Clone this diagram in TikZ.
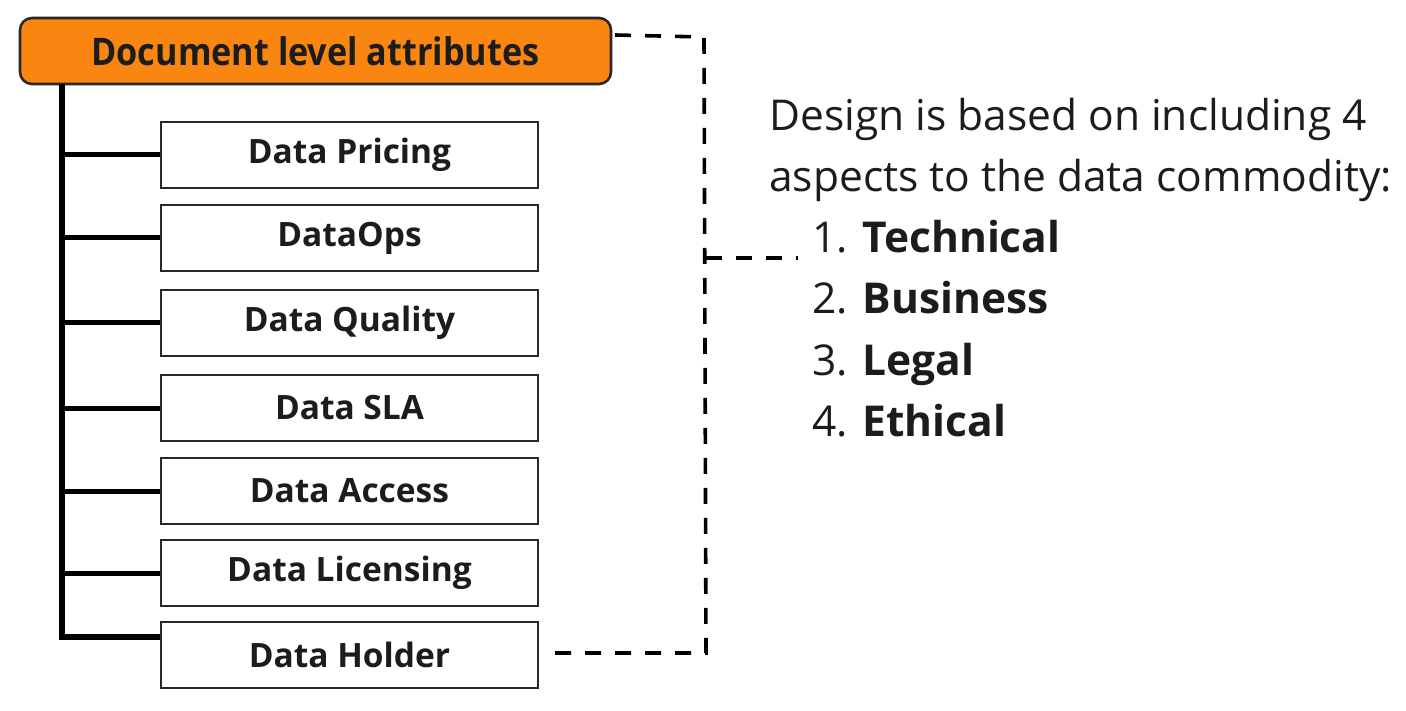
\documentclass[tikz,border=0pt]{standalone}
\usepackage{fontspec}
\setmainfont{Open Sans}
\newfontfamily\titlefont{Open Sans}[FakeStretch=0.9]
\definecolor{orangefill}{RGB}{248,134,16}
\definecolor{ink}{RGB}{28,28,28}
\definecolor{edge}{RGB}{40,40,40}
\tikzset{
  titlebox/.style={draw=edge, line width=2.6pt, fill=orangefill, rounded corners=12pt,
    minimum width=591pt, minimum height=66pt, inner sep=0pt, text=ink,
    font=\titlefont\fontsize{38}{44}\selectfont\bfseries},
  itembox/.style={draw=edge, line width=2.6pt, fill=white,
    minimum width=377pt, minimum height=66pt, inner sep=0pt, text=ink,
    font=\fontsize{33.5}{38}\selectfont\bfseries},
  trunk/.style={line width=5.5pt, black},
  branch/.style={line width=5pt, black},
  dashline/.style={line width=3.6pt, black, dash pattern=on 16pt off 14pt},
  bodytext/.style={anchor=base west, inner sep=0pt, text=ink,
    font=\fontsize{42.5}{61}\selectfont},
}
\begin{document}
\begin{tikzpicture}[x=1pt, y=-1pt]
\useasboundingbox (0,0) rectangle (1406,711);
\node[titlebox] (title) at (315.5,51) {Document level attributes};
\node[itembox] (b1) at (349.5,155) {Data Pricing};
\node[itembox] (b2) at (349.5,238) {DataOps};
\node[itembox] (b3) at (349.5,323) {Data Quality};
\node[itembox] (b4) at (349.5,408) {Data SLA};
\node[itembox] (b5) at (349.5,491) {Data Access};
\node[itembox] (b6) at (349.5,573) {Data Licensing};
\node[itembox] (b7) at (349.5,655) {Data Holder};

\coordinate (ttop) at (62,84);
\coordinate (tbot) at (62,637);
\draw[trunk] (ttop) -- (tbot) -- (b7.west |- tbot);
\foreach \b in {b1,b2,b3,b4,b5,b6}
  \draw[branch] (\b.west -| ttop) ++(3,0) -- (\b.west);

\node[bodytext] (l1) at (769,131) {Design is based on including 4};
\node[bodytext] (l2) at (769,192) {aspects to the data commodity:};
\node[bodytext] (i1) at (812,253) {1. \textbf{Technical}};
\node[bodytext] (i2) at (812,314) {2. \textbf{Business}};
\node[bodytext] (i3) at (812,375) {3. \textbf{Legal}};
\node[bodytext] (i4) at (812,436) {4. \textbf{Ethical}};

\coordinate (d1) at (615,35);
\coordinate (d2) at (704,37);
\coordinate (d3) at (706,653);
\coordinate (d4) at (706,258);
\draw[dashline] (d1) -- (d2) -- (d3) -- ([xshift=12pt]b7.east |- d3);
\draw[dashline] (d4) -- ([xshift=-14pt]i1.west |- d4);
\end{tikzpicture}
\end{document}
